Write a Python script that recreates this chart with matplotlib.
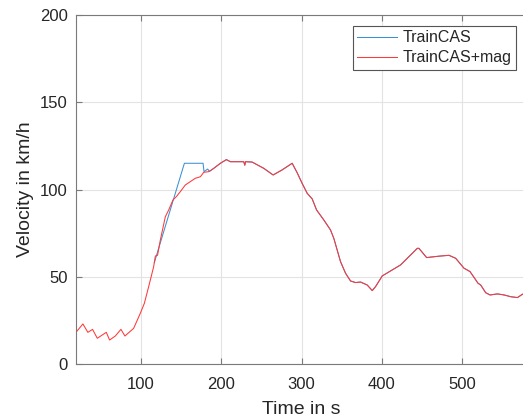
import matplotlib
matplotlib.use("Agg")
import matplotlib.pyplot as plt

plt.rcParams['font.family'] = ['Liberation Sans', 'DejaVu Sans']

# TrainCAS+mag (red)
red_t = [20.3, 28.2, 34.4, 40.2, 46.1, 57.3, 61.4, 68.5, 75.5, 80.5, 91.3, 99.6,
         104.6, 110.0, 116.2, 118.3, 121.0, 124.5, 130.7, 134.9, 140.2, 144.4,
         149.4, 155.6, 161.8, 168.0, 174.3, 178.4, 184.6, 190.9, 199.2, 206.6,
         211.6, 228.2, 229.5, 230.5, 238.6, 253.1, 264.7, 275.9, 288.4, 294.6,
         300.8, 307.1, 313.3, 318.7, 327.8, 336.1, 340.2, 348.5, 354.8, 361.0,
         367.2, 373.4, 381.7, 388.0, 392.1, 400.4, 423.2, 444.0, 446.0, 455.6,
         464.7, 473.0, 483.4, 491.7, 502.1, 509.5, 519.5, 522.8, 529.0, 534.4,
         543.6, 551.9, 560.2, 568.5, 574.7, 580.0]
red_v = [18.7, 23.1, 18.3, 20.0, 14.9, 18.3, 13.9, 16.2, 20.0, 16.2, 20.6, 29.2,
         34.9, 44.5, 55.9, 62.0, 62.4, 71.2, 84.5, 88.4, 94.1, 96.0,
         98.9, 102.7, 104.6, 106.5, 107.4, 109.9, 110.3, 112.2, 115.1, 117.2,
         116.0, 116.0, 114.0, 116.0, 115.8, 112.2, 108.4, 111.3, 115.1, 109.7,
         103.6, 97.9, 94.7, 88.4, 82.6, 76.9, 72.1, 58.8, 52.1, 47.7,
         46.8, 47.1, 45.4, 42.2, 44.5, 50.6, 56.9, 66.4, 66.4, 61.1,
         61.6, 62.0, 62.4, 60.7, 55.0, 53.1, 46.4, 45.4, 41.0, 39.7,
         40.3, 39.7, 38.7, 38.2, 40.1, 41.0]

# TrainCAS (blue) - differs from red only between ~117 s and ~185 s
blue_head_t = [117.0, 154.4, 177.6, 178.8, 183.4, 185.5]
blue_head_v = [58.2, 115.1, 115.1, 110.3, 111.8, 110.4]
blue_t = blue_head_t + [t for t in red_t if t > 186]
blue_v = blue_head_v + [v for t, v in zip(red_t, red_v) if t > 186]

xticks = [100, 200, 300, 400, 500]
yticks = [0, 50, 100, 150, 200]

W, H = 523, 418
fig = plt.figure(figsize=(W / 100, H / 100), dpi=100)
ax = fig.add_axes([76.3 / W, 1 - 364.3 / H, (526.7 - 76.3) / W, (364.3 - 15) / H])

ax.plot(blue_t, blue_v, color='#3a90d4', lw=0.75, label='TrainCAS')
ax.plot(red_t, red_v, color='#ff3838', lw=0.75, label='TrainCAS+mag')

ax.set_xticks(xticks)
ax.set_yticks(yticks)
ax.set_xlim(20, 580)
ax.set_ylim(0, 200)
ax.grid(True, color='#e3e3e3', lw=0.8)
ax.set_axisbelow(True)

for side in ['left', 'bottom', 'top']:
    ax.spines[side].set_color('#7a7a7a')
    ax.spines[side].set_linewidth(0.8)
ax.spines['right'].set_visible(False)

ax.tick_params(axis='both', direction='in', colors='#7a7a7a', labelcolor='#262626',
               labelsize=12, length=4, width=0.8, top=True, right=False)
ax.tick_params(axis='x', pad=9)
ax.tick_params(axis='y', pad=6)

fig.text(301.5 / W, 1 - 414.5 / H, 'Time in s', fontsize=14, color='#262626',
         ha='center', va='baseline')
fig.text(29.5 / W, 1 - 189.5 / H, 'Velocity in km/h', fontsize=14, color='#262626',
         ha='center', va='baseline', rotation=90, rotation_mode='anchor')

leg = ax.legend(loc='upper right', bbox_to_anchor=(516 / W, 1 - 25.7 / H),
                bbox_transform=fig.transFigure, borderaxespad=0, fontsize=11.5,
                fancybox=False, framealpha=1, edgecolor='#555555',
                handlelength=2.5, handletextpad=0.3, labelspacing=0.3, borderpad=0.3)
leg.get_frame().set_linewidth(0.8)
for txt in leg.get_texts():
    txt.set_color('#262626')

fig.savefig('out.png', dpi=100)
